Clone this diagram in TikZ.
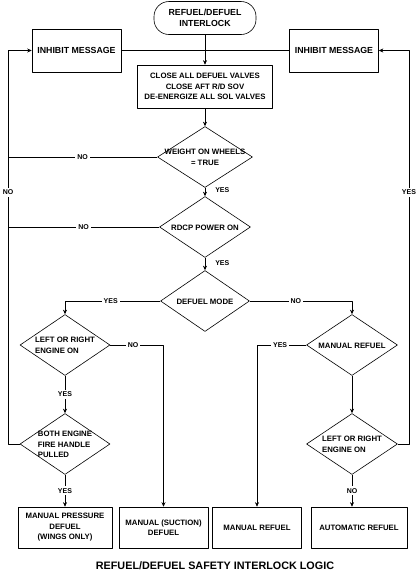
\documentclass[tikz,border=0pt]{standalone}
\usepackage{fontspec}
\setmainfont{Liberation Sans}
\usetikzlibrary{shapes.geometric,arrows.meta}
%% text set inside a diamond of fixed size
\newcommand\dtxt[2][c]{\smash{\raisebox{-3pt}{\makebox[0pt]{\begin{tabular}{@{}#1@{}}#2\end{tabular}}}}}
\begin{document}
\begin{tikzpicture}[x=1pt,y=-1pt,line width=0.6pt,line join=round,>={Stealth[length=4.5pt,width=4pt]},
	font=\fontsize{7.8}{10.5}\selectfont\bfseries,
	box/.style={draw,rectangle,inner sep=0pt,align=center},
	res/.style={box,minimum height=41pt},
	msg/.style={box,minimum width=89pt,minimum height=43pt,font=\fontsize{8.8}{11}\selectfont\bfseries},
	dia/.style={draw,diamond,inner sep=0pt,minimum width=91pt,minimum height=61pt},
	lbl/.style={fill=white,inner sep=2pt,font=\fontsize{7}{8}\selectfont\bfseries}]
	\useasboundingbox (0,0) rectangle (419,571);
	%%Khung va hop
	\node[box,rounded corners=15pt,minimum width=102pt,minimum height=33pt,font=\fontsize{8.8}{11}\selectfont\bfseries] (start) at (205,18) {REFUEL/DEFUEL\\INTERLOCK};
	\node[msg] (inhL) at (76.5,50.5) {INHIBIT MESSAGE};
	\node[msg] (inhR) at (334,50.5) {INHIBIT MESSAGE};
	\node[box,minimum width=135pt,minimum height=43pt] (act) at (205,86.5) {CLOSE ALL DEFUEL VALVES\\CLOSE AFT R/D SOV\\DE-ENERGIZE ALL SOL VALVES};
	\node[dia,minimum width=95pt] (wow) at (205,157) {\dtxt{WEIGHT ON WHEELS\\= TRUE}};
	\node[dia] (rdcp) at (205,227) {\dtxt{RDCP POWER ON}};
	\node[dia,minimum width=89pt] (mode) at (205,301) {\dtxt{DEFUEL MODE}};
	\node[dia,minimum width=90pt] (engL) at (65,345) {\dtxt[l]{LEFT OR RIGHT\\ENGINE ON}};
	\node[dia,minimum width=90pt] (fire) at (65,444) {\dtxt[l]{BOTH ENGINE\\FIRE HANDLE\\PULLED}};
	\node[dia] (manual) at (352,345) {\dtxt{MANUAL REFUEL}};
	\node[dia] (engR) at (352,444) {\dtxt[l]{LEFT OR RIGHT\\ENGINE ON}};
	\node[res,minimum width=94pt] (pres) at (65,527.5) {MANUAL PRESSURE\\DEFUEL\\(WINGS ONLY)};
	\node[res,minimum width=89pt] (suct) at (163.5,527.5) {MANUAL (SUCTION)\\DEFUEL};
	\node[res,minimum width=89pt] (mref) at (257,527.5) {MANUAL REFUEL};
	\node[res,minimum width=96pt] (aref) at (359,527.5) {AUTOMATIC REFUEL};
	\node[anchor=base,font=\fontsize{10.8}{13}\selectfont\bfseries] (title) at (215,569.5) {REFUEL/DEFUEL SAFETY INTERLOCK LOGIC};
	%%Duong noi
	\coordinate (lx) at (8,0);
	\coordinate (rx) at (409,0);
	\draw[->] (start) -- (act);
	\draw (inhL) -- (inhR);
	\draw[->] (act) -- (wow);
	\draw[->] (wow) -- node[lbl,fill=none,right=8pt,pos=0.33] {YES} (rdcp);
	\draw[->] (rdcp) -- node[lbl,fill=none,right=8pt,pos=0.46] {YES} (mode);
	\draw (wow.west) -- node[lbl] {NO} (wow.west -| lx);
	\draw (rdcp.west) -- node[lbl] {NO} (rdcp.west -| lx);
	\draw[->] (fire.west) -- (fire.west -| lx) -- node[lbl,pos=0.64] {NO} (inhL.west -| lx) -- (inhL.west);
	\draw[->] (engR.east) -- (engR.east -| rx) -- node[lbl,pos=0.64] {YES} (inhR.east -| rx) -- (inhR.east);
	\draw[->] (mode.west) -- node[lbl,pos=0.52] {YES} (mode.west -| engL) -- (engL.north);
	\draw[->] (mode.east) -- node[lbl,pos=0.45] {NO} (mode.east -| manual) -- (manual.north);
	\draw[->] (engL.east) -- node[lbl,pos=0.43] {NO} (engL.east -| suct) -- (suct.north);
	\draw[->] (engL) -- node[lbl] {YES} (fire);
	\draw[->] (fire) -- node[lbl] {YES} (pres);
	\draw[->] (manual.west) -- node[lbl,pos=0.53] {YES} (manual.west -| mref) -- (mref.north);
	\draw[->] (manual) -- (engR);
	\draw[->] (engR.south) -- node[lbl] {NO} (engR.south |- aref.north);
\end{tikzpicture}
\end{document}
